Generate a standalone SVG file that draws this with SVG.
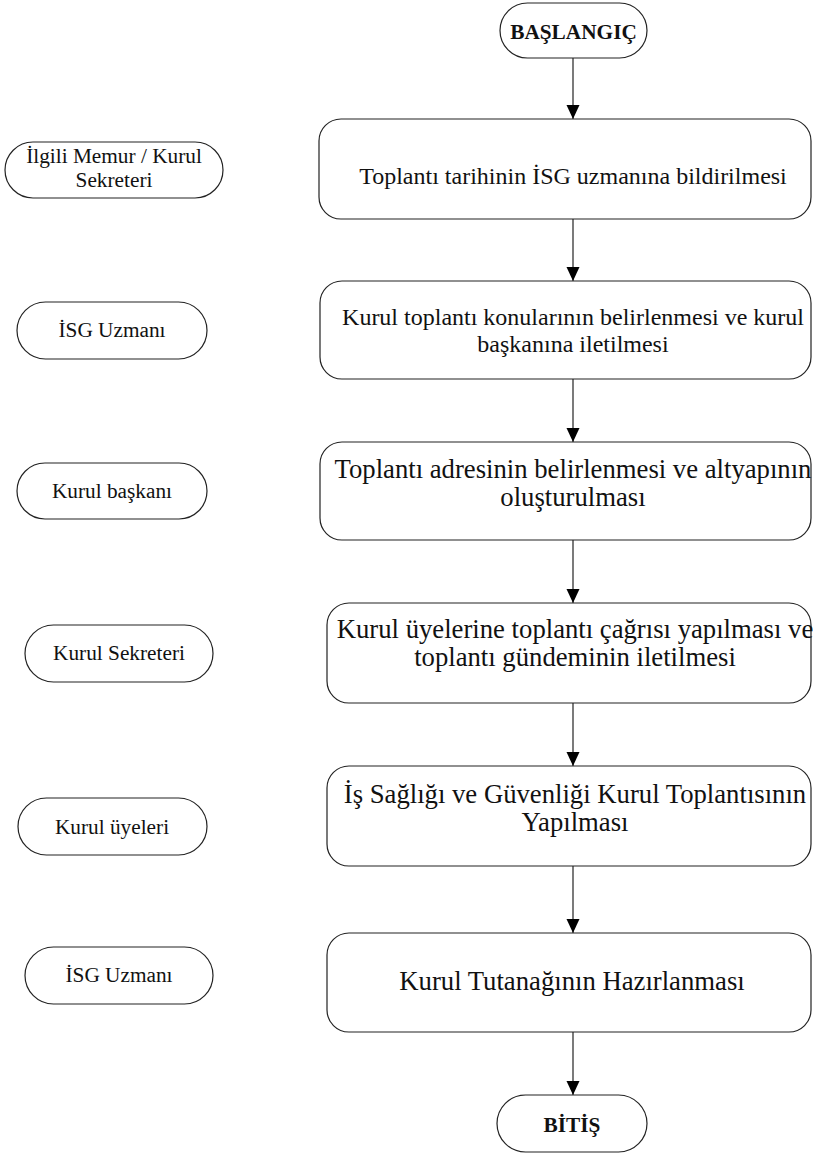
<svg xmlns="http://www.w3.org/2000/svg" width="813" height="1156" viewBox="0 0 813 1156">
<style>
.shape{fill:#fff;stroke:#222;stroke-width:1.2}
.t{font-family:'Liberation Serif',Tinos,'DejaVu Serif',serif;fill:#111;text-anchor:middle}
.s16{font-size:21.3px}
.s18{font-size:24px}
.s20{font-size:26.7px}
.b{font-weight:bold}
.conn{stroke:#222;stroke-width:1.2;fill:none;marker-end:url(#arr)}
</style>
<defs>
<marker id="arr" markerUnits="userSpaceOnUse" markerWidth="14" markerHeight="14" refX="14" refY="6.5" orient="auto">
<path d="M0,0 L14,6.5 L0,13 z" fill="#000"/>
</marker>
</defs>
<rect width="813" height="1156" fill="#fff"/>
<g id="connectors">
<line class="conn" x1="573" y1="58" x2="573" y2="119"/>
<line class="conn" x1="573" y1="219" x2="573" y2="281"/>
<line class="conn" x1="573" y1="379" x2="573" y2="442"/>
<line class="conn" x1="573" y1="540" x2="573" y2="603"/>
<line class="conn" x1="573" y1="703" x2="573" y2="766"/>
<line class="conn" x1="573" y1="866" x2="573" y2="933"/>
<line class="conn" x1="573" y1="1032" x2="573" y2="1095"/>
</g>
<g id="start">
<rect class="shape" x="500" y="3" width="147" height="55" rx="27.5"/>
<text class="t s16 b" x="573.5" y="38.5">BAŞLANGIÇ</text>
</g>
<g id="step1">
<rect class="shape" x="319" y="119" width="492" height="100" rx="22"/>
<text class="t s18" x="573" y="184">Toplantı tarihinin İSG uzmanına bildirilmesi</text>
</g>
<g id="step2">
<rect class="shape" x="320" y="281" width="491" height="98" rx="22"/>
<text class="t s18" x="573" y="325">Kurul toplantı konularının belirlenmesi ve kurul</text>
<text class="t s18" x="573" y="352">başkanına iletilmesi</text>
</g>
<g id="step3">
<rect class="shape" x="320" y="442" width="491" height="98" rx="22"/>
<text class="t s20" x="573" y="478">Toplantı adresinin belirlenmesi ve altyapının</text>
<text class="t s20" x="573" y="506">oluşturulması</text>
</g>
<g id="step4">
<rect class="shape" x="327" y="603" width="484" height="100" rx="22"/>
<text class="t s20" x="575" y="638">Kurul üyelerine toplantı çağrısı yapılması ve</text>
<text class="t s20" x="575" y="666">toplantı gündeminin iletilmesi</text>
</g>
<g id="step5">
<rect class="shape" x="327" y="766" width="484" height="100" rx="22"/>
<text class="t s20" x="575" y="803">İş Sağlığı ve Güvenliği Kurul Toplantısının</text>
<text class="t s20" x="575" y="831">Yapılması</text>
</g>
<g id="step6">
<rect class="shape" x="327" y="933" width="484" height="99" rx="22"/>
<text class="t s20" x="572" y="990">Kurul Tutanağının Hazırlanması</text>
</g>
<g id="end">
<rect class="shape" x="497" y="1095" width="150" height="57" rx="28.5"/>
<text class="t s16 b" x="572" y="1132">BİTİŞ</text>
</g>
<g id="role1">
<rect class="shape" x="5" y="142" width="218" height="56" rx="28"/>
<text class="t s16" x="114" y="163">İlgili Memur / Kurul</text>
<text class="t s16" x="114" y="187">Sekreteri</text>
</g>
<g id="role2">
<rect class="shape" x="17" y="302" width="190" height="57" rx="28.5"/>
<text class="t s16" x="112" y="337">İSG Uzmanı</text>
</g>
<g id="role3">
<rect class="shape" x="17" y="463" width="190" height="56" rx="28"/>
<text class="t s16" x="112" y="498">Kurul başkanı</text>
</g>
<g id="role4">
<rect class="shape" x="25" y="625" width="188" height="57" rx="28.5"/>
<text class="t s16" x="119" y="660">Kurul Sekreteri</text>
</g>
<g id="role5">
<rect class="shape" x="18" y="798" width="189" height="57" rx="28.5"/>
<text class="t s16" x="112" y="834">Kurul üyeleri</text>
</g>
<g id="role6">
<rect class="shape" x="25" y="947" width="188" height="57" rx="28.5"/>
<text class="t s16" x="119" y="982">İSG Uzmanı</text>
</g>
</svg>
